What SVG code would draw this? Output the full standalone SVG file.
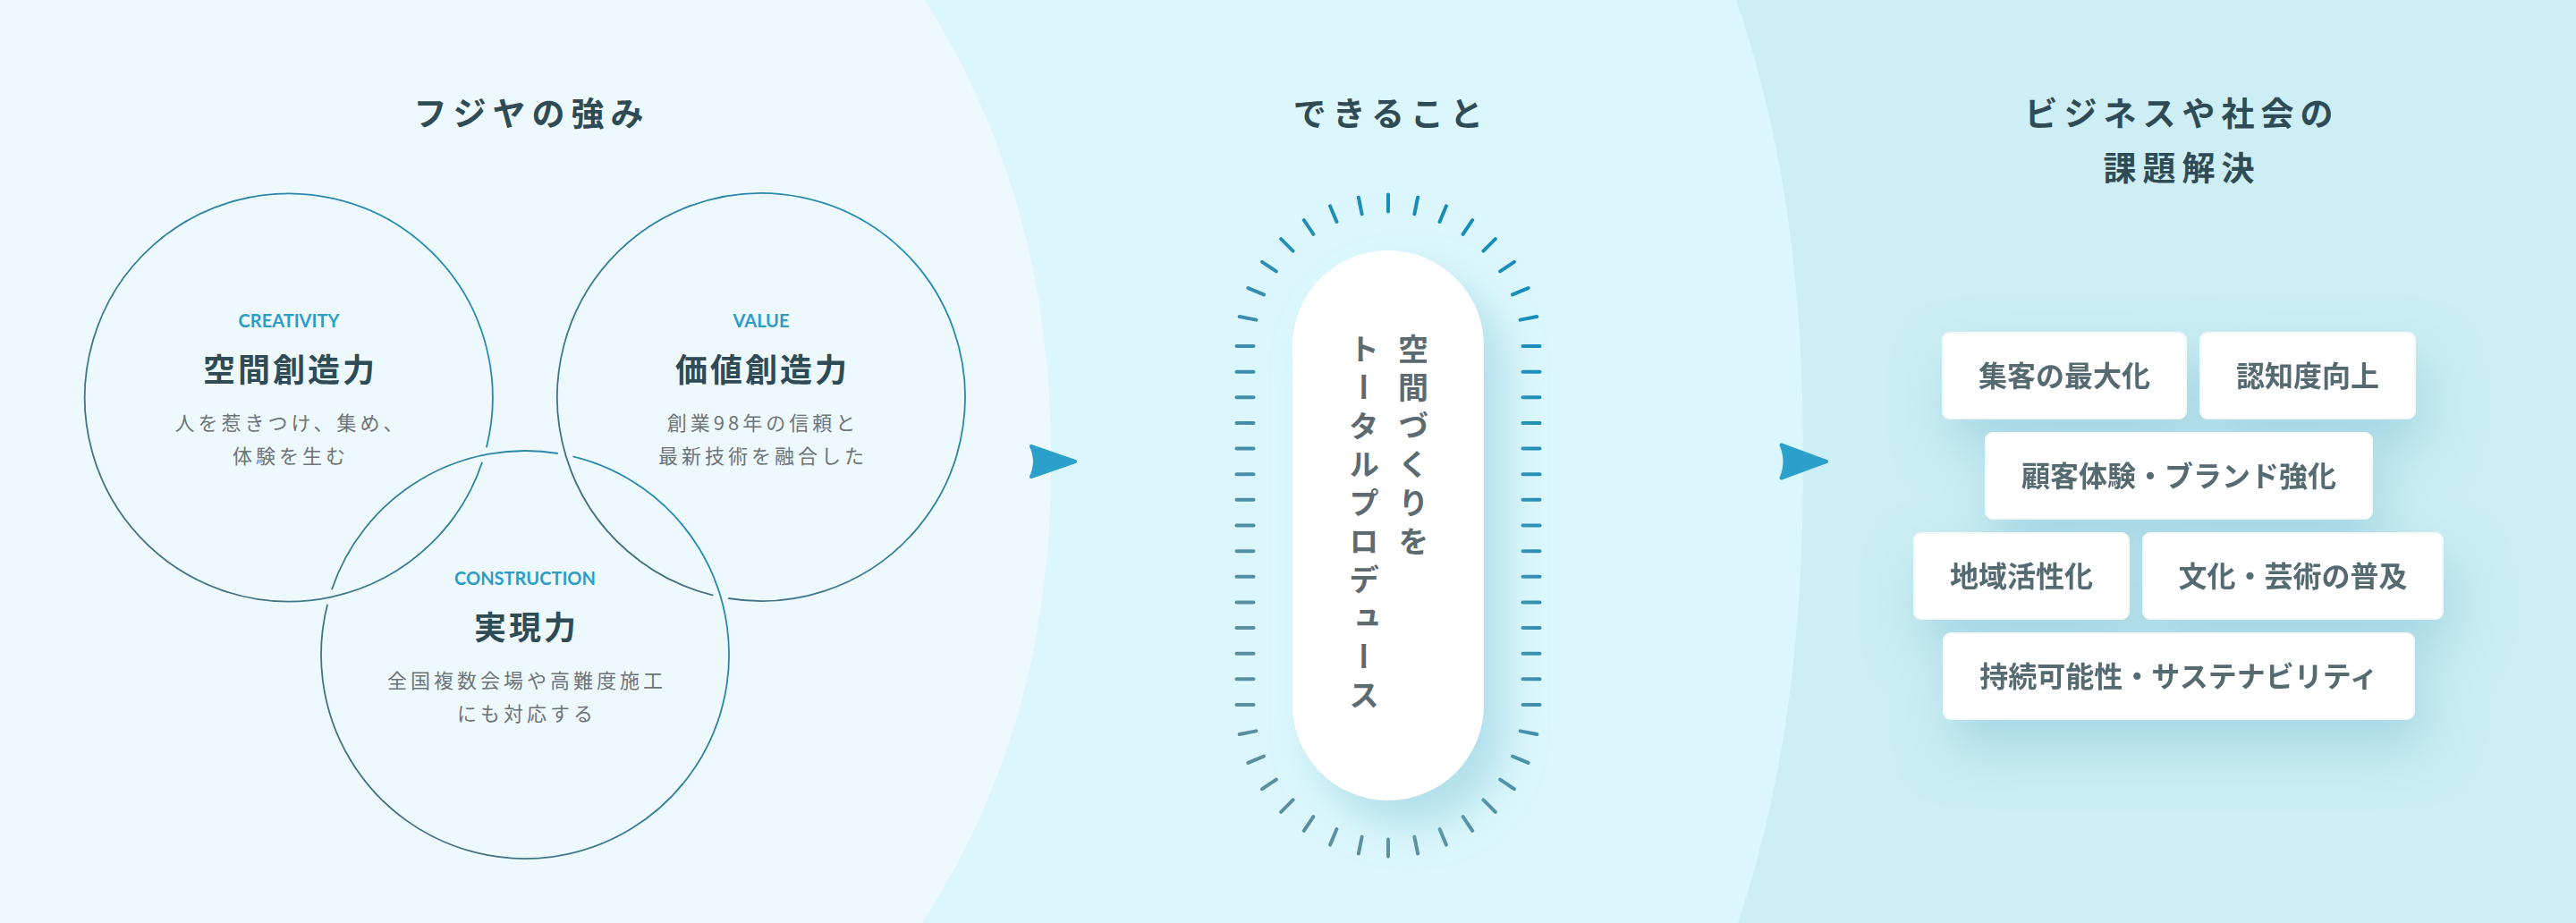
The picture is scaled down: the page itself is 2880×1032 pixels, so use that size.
<svg xmlns="http://www.w3.org/2000/svg" width="2880" height="1032" viewBox="0 0 2880 1032">
<defs>
<style>
.ttl{font-family:"Noto Sans CJK JP","Noto Sans",sans-serif;font-weight:700;font-size:37px;letter-spacing:7px;fill:#2f4b55;text-anchor:middle}
.en{font-family:Lato,"Liberation Sans",sans-serif;font-weight:700;font-size:20px;fill:#2b9dc6;text-anchor:middle}
.hd{font-family:"Noto Sans CJK JP",sans-serif;font-weight:700;font-size:36px;letter-spacing:3px;fill:#2f4b55;text-anchor:middle}
.bd{font-family:"Noto Sans CJK JP",sans-serif;font-weight:400;font-size:22px;letter-spacing:4px;fill:#6d7478;text-anchor:middle}
.ring{fill:none;stroke-width:1.8}
.box rect{fill:#ffffff;stroke:#f2fafc;stroke-width:2}
.box text{font-family:"Noto Sans CJK JP",sans-serif;font-weight:700;font-size:32px;fill:#566a72;text-anchor:middle}
.vt{font-family:"Noto Sans CJK JP",sans-serif;font-weight:700;font-size:34px;letter-spacing:9px;fill:#5d6b71;writing-mode:vertical-rl}
.arrow{fill:#2ba0cb;stroke:#2ba0cb;stroke-width:4;stroke-linejoin:round}
</style>
<linearGradient id="g1" gradientUnits="userSpaceOnUse" x1="95" y1="672" x2="551" y2="216"><stop offset="0" stop-color="#4b6b75"/><stop offset="1" stop-color="#1f92be"/></linearGradient>
<linearGradient id="g2" gradientUnits="userSpaceOnUse" x1="623" y1="672" x2="1079" y2="216"><stop offset="0" stop-color="#4b6b75"/><stop offset="1" stop-color="#1f92be"/></linearGradient>
<linearGradient id="g3" gradientUnits="userSpaceOnUse" x1="359" y1="960" x2="815" y2="504"><stop offset="0" stop-color="#4b6b75"/><stop offset="1" stop-color="#1f92be"/></linearGradient>
<linearGradient id="gt" gradientUnits="userSpaceOnUse" x1="1380" y1="700" x2="1724" y2="400"><stop offset="0" stop-color="#5a8fa0"/><stop offset="1" stop-color="#178dbb"/></linearGradient>
<filter id="pillShadow" x="-50%" y="-30%" width="200%" height="160%"><feDropShadow dx="24" dy="28" stdDeviation="22" flood-color="#86c8da" flood-opacity="0.5"/></filter>
<filter id="boxShadow" x="-30%" y="-60%" width="160%" height="280%"><feDropShadow dx="10" dy="30" stdDeviation="30" flood-color="#7fbfd3" flood-opacity="0.5"/></filter>
</defs>

<g id="background">
<rect x="0" y="0" width="2880" height="1032" fill="#dcf7fc"/>
<path d="M0,0 L1034,0 C1140,170 1175,340 1175,516 C1175,692 1140,862 1031,1032 L0,1032 Z" fill="#eef9fd"/>
<path d="M1941,0 C2000,170 2016,340 2016,516 C2016,692 2000,862 1943,1032 L2880,1032 L2880,0 Z" fill="#cceef4"/>
</g>

<g id="titles">
<text class="ttl" x="594.5" y="141">フジヤの強み</text>
<text class="ttl" x="1555.5" y="141">できること</text>
<text class="ttl" x="2439.5" y="141">ビジネスや社会の</text>
<text class="ttl" x="2439.5" y="202">課題解決</text>
</g>

<g id="strength-creativity">
<path class="ring" stroke="url(#g1)" d="M539.1,516.7 A228,228 0 1 1 543.9,500.3"/>
<text class="en" x="323" y="366">CREATIVITY</text>
<text class="hd" x="324.5" y="426.5">空間創造力</text>
<text class="bd" x="325" y="481">人を惹きつけ、集め、</text>
<text class="bd" x="325" y="518">体験を生む</text>
</g>

<g id="strength-value">
<path class="ring" stroke="url(#g2)" d="M797.4,665.6 A228,228 0 1 1 814.2,669.0"/>
<text class="en" x="851" y="366">VALUE</text>
<text class="hd" x="852.5" y="426.5">価値創造力</text>
<text class="bd" x="853" y="481">創業98年の信頼と</text>
<text class="bd" x="853" y="518">最新技術を融合した</text>
</g>

<g id="strength-construction">
<path class="ring" stroke="url(#g3)" d="M370.9,659.3 A228,228 0 0 1 623.8,507.0"/>
<path class="ring" stroke="url(#g3)" d="M640.6,510.4 A228,228 0 1 1 366.1,675.7"/>
<text class="en" x="587" y="654">CONSTRUCTION</text>
<text class="hd" x="588.5" y="714.5">実現力</text>
<text class="bd" x="589" y="769">全国複数会場や高難度施工</text>
<text class="bd" x="589" y="806">にも対応する</text>
</g>

<g id="capability">
<path fill="none" stroke="url(#gt)" stroke-width="4" stroke-linecap="round" d="
M1401.5,387 L1382.5,387 M1401.5,415.64 L1382.5,415.64 M1401.5,444.29 L1382.5,444.29 M1401.5,472.93 L1382.5,472.93 M1401.5,501.57 L1382.5,501.57 M1401.5,530.21 L1382.5,530.21 M1401.5,558.86 L1382.5,558.86 M1401.5,587.5 L1382.5,587.5 M1401.5,616.14 L1382.5,616.14 M1401.5,644.79 L1382.5,644.79 M1401.5,673.43 L1382.5,673.43 M1401.5,702.07 L1382.5,702.07 M1401.5,730.71 L1382.5,730.71 M1401.5,759.36 L1382.5,759.36 M1401.5,788 L1382.5,788
M1702.5,387 L1721.5,387 M1702.5,415.64 L1721.5,415.64 M1702.5,444.29 L1721.5,444.29 M1702.5,472.93 L1721.5,472.93 M1702.5,501.57 L1721.5,501.57 M1702.5,530.21 L1721.5,530.21 M1702.5,558.86 L1721.5,558.86 M1702.5,587.5 L1721.5,587.5 M1702.5,616.14 L1721.5,616.14 M1702.5,644.79 L1721.5,644.79 M1702.5,673.43 L1721.5,673.43 M1702.5,702.07 L1721.5,702.07 M1702.5,730.71 L1721.5,730.71 M1702.5,759.36 L1721.5,759.36 M1702.5,788 L1721.5,788
M1404.39,357.64 L1385.76,353.93 M1412.96,329.41 L1395.40,322.14 M1426.86,303.39 L1411.07,292.83 M1445.58,280.58 L1432.15,267.15 M1468.39,261.86 L1457.83,246.07 M1494.41,247.96 L1487.14,230.40 M1522.64,239.39 L1518.93,220.76 M1552,236.5 L1552,217.5
M1581.36,239.39 L1585.07,220.76 M1609.59,247.96 L1616.86,230.40 M1635.61,261.86 L1646.17,246.07 M1658.42,280.58 L1671.85,267.15 M1677.14,303.39 L1692.93,292.83 M1691.04,329.41 L1708.60,322.14 M1699.61,357.64 L1718.24,353.93
M1404.39,817.36 L1385.76,821.07 M1412.96,845.59 L1395.40,852.86 M1426.86,871.61 L1411.07,882.17 M1445.58,894.42 L1432.15,907.85 M1468.39,913.14 L1457.83,928.93 M1494.41,927.04 L1487.14,944.60 M1522.64,935.61 L1518.93,954.24 M1552,938.5 L1552,957.5
M1581.36,935.61 L1585.07,954.24 M1609.59,927.04 L1616.86,944.60 M1635.61,913.14 L1646.17,928.93 M1658.42,894.42 L1671.85,907.85 M1677.14,871.61 L1692.93,882.17 M1691.04,845.59 L1708.60,852.86 M1699.61,817.36 L1718.24,821.07"/>
<rect x="1445" y="280" width="214" height="615" rx="107" ry="107" fill="#ffffff" filter="url(#pillShadow)"/>
<text class="vt" x="1580" y="373">空間づくりを</text>
<text class="vt" x="1525" y="373">トータルプロデュース</text>
</g>

<g id="solutions" filter="url(#boxShadow)">
<g id="sol-1" class="box"><rect x="2172" y="372" width="272" height="96" rx="8"/><text x="2308" y="432">集客の最大化</text></g>
<g id="sol-2" class="box"><rect x="2460" y="372" width="240" height="96" rx="8"/><text x="2580" y="432">認知度向上</text></g>
<g id="sol-3" class="box"><rect x="2220" y="484" width="432" height="96" rx="8"/><text x="2436" y="544">顧客体験・ブランド強化</text></g>
<g id="sol-4" class="box"><rect x="2140" y="596" width="240" height="96" rx="8"/><text x="2260" y="656">地域活性化</text></g>
<g id="sol-5" class="box"><rect x="2396" y="596" width="335" height="96" rx="8"/><text x="2563.5" y="656">文化・芸術の普及</text></g>
<g id="sol-6" class="box"><rect x="2173" y="708" width="526" height="96" rx="8"/><text x="2436" y="768">持続可能性・サステナビリティ</text></g>
</g>

<g id="connectors">
<path class="arrow" d="M1153,499 Q1161,516 1153,533 L1202,516 Z"/>
<path class="arrow" d="M1991.5,497.5 Q1999.5,516 1991.5,534.5 L2042,516 Z"/>
</g>
</svg>
